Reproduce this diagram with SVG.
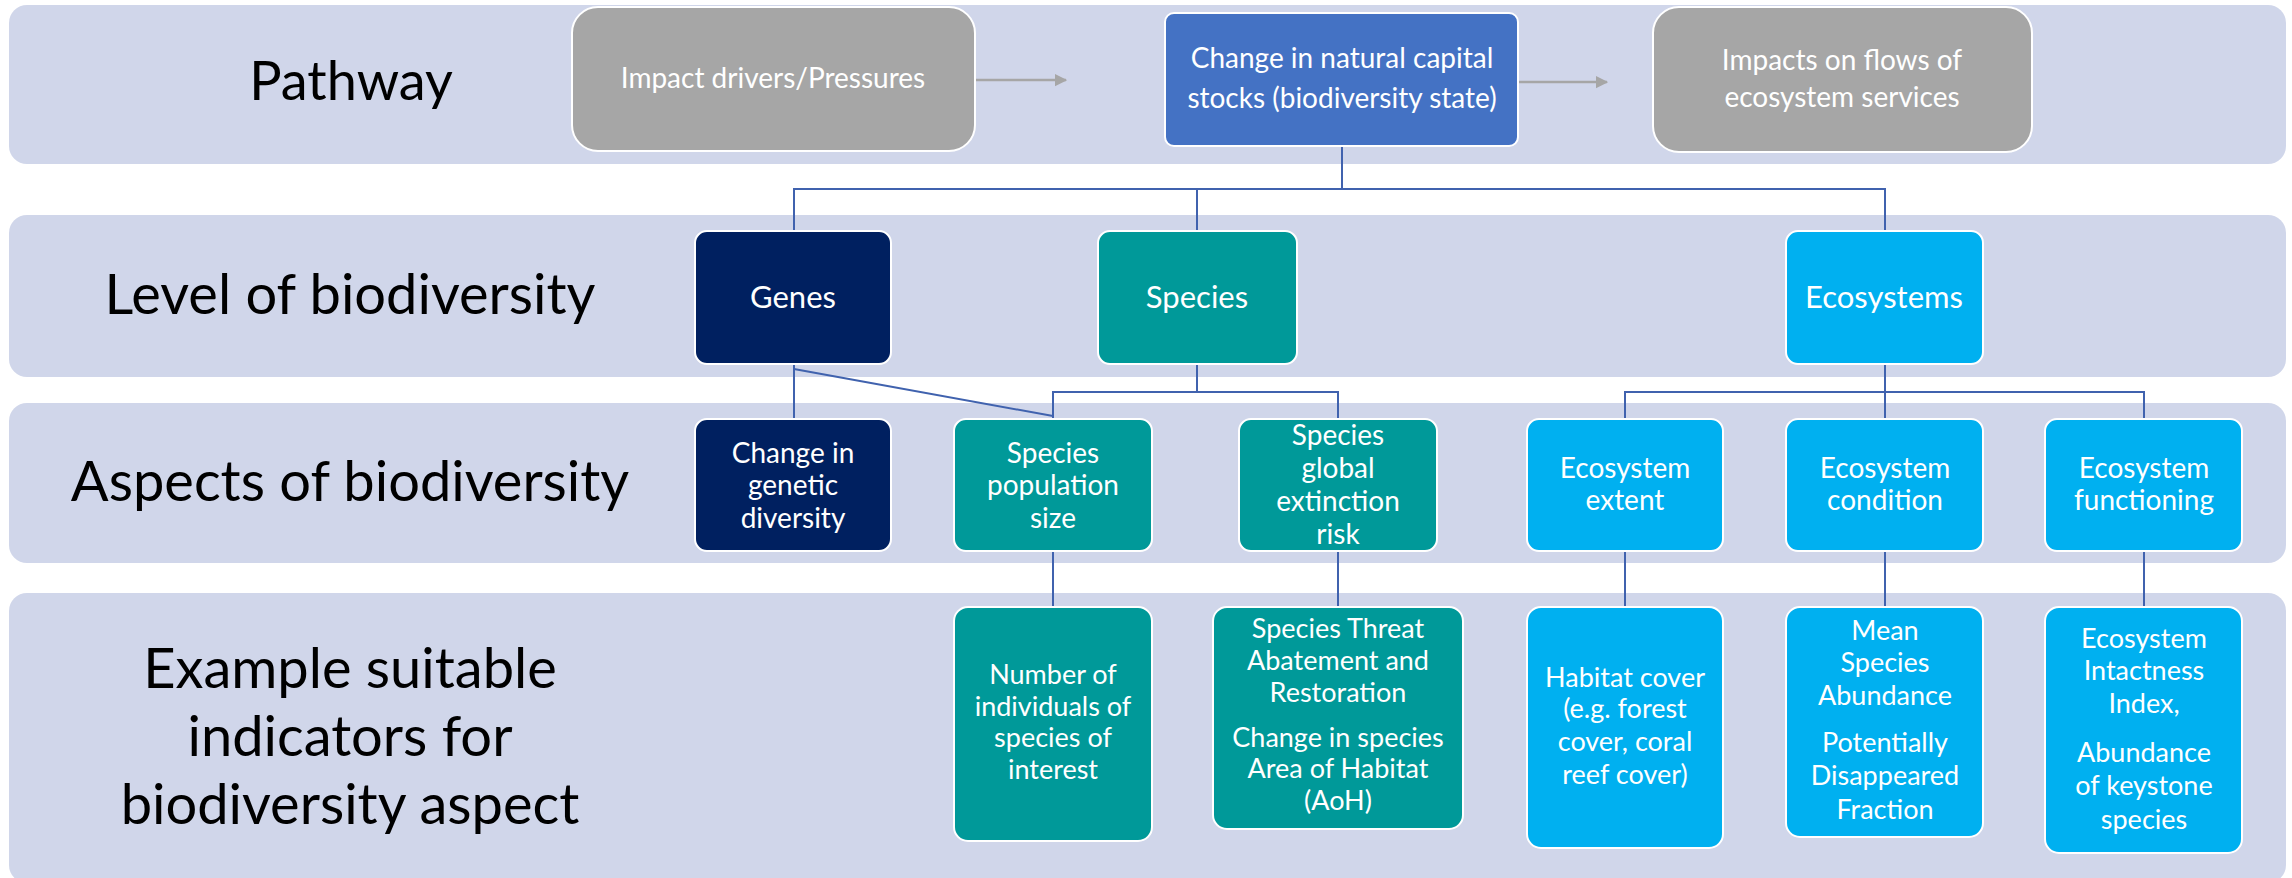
<svg xmlns="http://www.w3.org/2000/svg" width="2292" height="878" viewBox="0 0 2292 878">
<defs>
<style>
.band{fill:#D0D6EA;}
.lbl{font-family:Lato,"Liberation Sans",sans-serif;font-size:56px;fill:#000;text-anchor:middle;}
.node rect{stroke:#ffffff;stroke-width:2;}
.nt{font-family:Lato,"Liberation Sans",sans-serif;font-size:27px;fill:#ffffff;text-anchor:middle;}
.nt1{font-size:28px;}
.nt2{font-size:31px;}
.gray{fill:#A6A6A6;}
.blue{fill:#4472C4;}
.navy{fill:#002060;}
.teal{fill:#009999;}
.cyan{fill:#00B0F0;}
.conn{stroke:#4062AE;stroke-width:2;fill:none;}
.arr{stroke:#A6A6A6;stroke-width:2.5;fill:none;}
</style>
<marker id="ah" viewBox="0 0 10 10" refX="9" refY="5" markerWidth="5" markerHeight="6" orient="auto" markerUnits="strokeWidth">
<path d="M0,0 L10,5 L0,10 z" fill="#A6A6A6"/>
</marker>
</defs>
<rect width="2292" height="878" fill="#ffffff"/>
<g id="bands">
<rect class="band" x="9" y="5" width="2277" height="159" rx="18"/>
<rect class="band" x="9" y="215" width="2277" height="162" rx="18"/>
<rect class="band" x="9" y="403" width="2277" height="160" rx="18"/>
<rect class="band" x="9" y="593" width="2277" height="290" rx="18"/>
</g>
<g id="labels">
<text class="lbl" x="351" y="100" style="font-size:54px">Pathway</text>
<text class="lbl" x="350" y="314">Level of biodiversity</text>
<text class="lbl" x="350" y="501">Aspects of biodiversity</text>
<text class="lbl" x="350" y="688">Example suitable</text>
<text class="lbl" x="350" y="756">indicators for</text>
<text class="lbl" x="350" y="824">biodiversity aspect</text>
</g>
<g id="connectors">
<line class="arr" x1="976" y1="80" x2="1066" y2="80" marker-end="url(#ah)"/>
<line class="arr" x1="1519" y1="82" x2="1607" y2="82" marker-end="url(#ah)"/>
<path class="conn" d="M1342,147 V189 H794 V231"/>
<path class="conn" d="M1342,189 H1885 V231"/>
<path class="conn" d="M1197,189 V231"/>
<path class="conn" d="M794,364 V419"/>
<path class="conn" d="M794,369 L1053,416"/>
<path class="conn" d="M1197,364 V392 H1053 V419"/>
<path class="conn" d="M1197,392 H1338 V419"/>
<path class="conn" d="M1885,364 V419"/>
<path class="conn" d="M1885,392 H1625 V419"/>
<path class="conn" d="M1885,392 H2144 V419"/>
<path class="conn" d="M1053,551 V607"/>
<path class="conn" d="M1338,551 V607"/>
<path class="conn" d="M1625,551 V607"/>
<path class="conn" d="M1885,551 V607"/>
<path class="conn" d="M2144,551 V607"/>
</g>
<g id="n-impact-drivers" class="node">
<rect class="gray" x="572" y="7" width="403" height="144" rx="26"/>
<text class="nt nt1" x="773" y="88" fill="#F2F2F2">Impact drivers/Pressures</text>
</g>
<g id="n-change-stocks" class="node">
<rect class="blue" x="1165" y="13" width="353" height="133" rx="9"/>
<text class="nt nt1" x="1342" y="68">Change in natural capital</text>
<text class="nt nt1" x="1342" y="108">stocks (biodiversity state)</text>
</g>
<g id="n-impacts-flows" class="node">
<rect class="gray" x="1653" y="7" width="379" height="145" rx="26"/>
<text class="nt nt1" x="1842" y="70">Impacts on flows of</text>
<text class="nt nt1" x="1842" y="107">ecosystem services</text>
</g>
<g id="n-genes" class="node">
<rect class="navy" x="695" y="231" width="196" height="133" rx="12"/>
<text class="nt nt2" x="793" y="308">Genes</text>
</g>
<g id="n-species" class="node">
<rect class="teal" x="1098" y="231" width="199" height="133" rx="12"/>
<text class="nt nt2" x="1197" y="308">Species</text>
</g>
<g id="n-ecosystems" class="node">
<rect class="cyan" x="1786" y="231" width="197" height="133" rx="12"/>
<text class="nt nt2" x="1884" y="308">Ecosystems</text>
</g>
<g id="n-genetic-diversity" class="node">
<rect class="navy" x="695" y="419" width="196" height="132" rx="12"/>
<text class="nt nt1" x="793" y="463">Change in</text>
<text class="nt nt1" x="793" y="495">genetic</text>
<text class="nt nt1" x="793" y="528">diversity</text>
</g>
<g id="n-population-size" class="node">
<rect class="teal" x="954" y="419" width="198" height="132" rx="12"/>
<text class="nt nt1" x="1053" y="463">Species</text>
<text class="nt nt1" x="1053" y="495">population</text>
<text class="nt nt1" x="1053" y="528">size</text>
</g>
<g id="n-extinction-risk" class="node">
<rect class="teal" x="1239" y="419" width="198" height="132" rx="12"/>
<text class="nt nt1" x="1338" y="445">Species</text>
<text class="nt nt1" x="1338" y="478">global</text>
<text class="nt nt1" x="1338" y="511">extinction</text>
<text class="nt nt1" x="1338" y="544">risk</text>
</g>
<g id="n-eco-extent" class="node">
<rect class="cyan" x="1527" y="419" width="196" height="132" rx="12"/>
<text class="nt nt1" x="1625" y="478">Ecosystem</text>
<text class="nt nt1" x="1625" y="510">extent</text>
</g>
<g id="n-eco-condition" class="node">
<rect class="cyan" x="1786" y="419" width="197" height="132" rx="12"/>
<text class="nt nt1" x="1885" y="478">Ecosystem</text>
<text class="nt nt1" x="1885" y="510">condition</text>
</g>
<g id="n-eco-functioning" class="node">
<rect class="cyan" x="2045" y="419" width="197" height="132" rx="12"/>
<text class="nt nt1" x="2144" y="478">Ecosystem</text>
<text class="nt nt1" x="2144" y="510">functioning</text>
</g>
<g id="n-number-individuals" class="node">
<rect class="teal" x="954" y="607" width="198" height="234" rx="14"/>
<text class="nt" x="1053" y="684">Number of</text>
<text class="nt" x="1053" y="716">individuals of</text>
<text class="nt" x="1053" y="747">species of</text>
<text class="nt" x="1053" y="779">interest</text>
</g>
<g id="n-star-aoh" class="node">
<rect class="teal" x="1213" y="607" width="250" height="222" rx="14"/>
<text class="nt" x="1338" y="638">Species Threat</text>
<text class="nt" x="1338" y="670">Abatement and</text>
<text class="nt" x="1338" y="702">Restoration</text>
<text class="nt" x="1338" y="747">Change in species</text>
<text class="nt" x="1338" y="778">Area of Habitat</text>
<text class="nt" x="1338" y="810">(AoH)</text>
</g>
<g id="n-habitat-cover" class="node">
<rect class="cyan" x="1527" y="607" width="196" height="241" rx="14"/>
<text class="nt" x="1625" y="687">Habitat cover</text>
<text class="nt" x="1625" y="718">(e.g. forest</text>
<text class="nt" x="1625" y="751">cover, coral</text>
<text class="nt" x="1625" y="784">reef cover)</text>
</g>
<g id="n-msa-pdf" class="node">
<rect class="cyan" x="1786" y="607" width="197" height="230" rx="14"/>
<text class="nt" x="1885" y="640">Mean</text>
<text class="nt" x="1885" y="672">Species</text>
<text class="nt" x="1885" y="705">Abundance</text>
<text class="nt" x="1885" y="752">Potentially</text>
<text class="nt" x="1885" y="785">Disappeared</text>
<text class="nt" x="1885" y="819">Fraction</text>
</g>
<g id="n-intactness" class="node">
<rect class="cyan" x="2045" y="607" width="197" height="246" rx="14"/>
<text class="nt" x="2144" y="648">Ecosystem</text>
<text class="nt" x="2144" y="680">Intactness</text>
<text class="nt" x="2144" y="713">Index,</text>
<text class="nt" x="2144" y="762">Abundance</text>
<text class="nt" x="2144" y="795">of keystone</text>
<text class="nt" x="2144" y="829">species</text>
</g>
</svg>
